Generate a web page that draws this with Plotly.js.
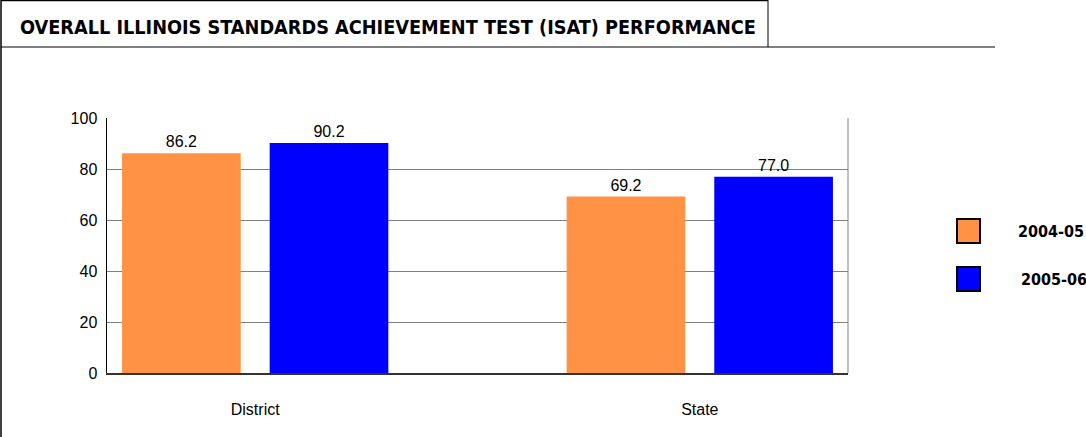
<!DOCTYPE html>
<html><head><meta charset="utf-8">
<script src="https://cdn.plot.ly/plotly-3.0.1.min.js"></script>
<style>html,body{margin:0;padding:0;background:#fff}#c{width:1086px;height:437px}</style>
</head><body><div id="c"></div>
<script>
const categories = ["District", "State"];
const seriesNames = ["2004-05", "2005-06"];
const values0405 = [86.2, 69.2];
const values0506 = [90.2, 77.0];
const colors = ["#FF9244", "#0000FF"];
const yTicks = [0, 20, 40, 60, 80, 100];

const font = "Arial, 'Liberation Sans', sans-serif";
const narrow = "'DejaVu Sans Condensed', 'Liberation Sans Narrow', 'Arial Narrow', sans-serif";
const series = [values0405, values0506];
const traces = series.map((v, i) => ({
  type: "bar", x: categories, y: v, name: seriesNames[i],
  marker: {color: colors[i], line: {width: 0}},
  texttemplate: "%{y:.1f}", textposition: "outside", cliponaxis: false,
  textfont: {family: font, size: 16, color: "#000"},
  showlegend: false, hoverinfo: "none"
}));

// pixel -> paper helpers (plot area 107..848 x 118..373)
const L = 107, R = 848, T = 118, B = 373;
const px = x => (x - L) / (R - L);
const py = y => 1 - (y - T) / (B - T);

const shapes = [
  {type: "line", xref: "paper", yref: "paper", x0: px(1), x1: px(1), y0: py(0), y1: py(440), line: {color: "#000", width: 1.5}},
  {type: "line", xref: "paper", yref: "paper", x0: px(1), x1: px(768), y0: py(0.5), y1: py(0.5), line: {color: "#000", width: 1.5}},
  {type: "line", xref: "paper", yref: "paper", x0: px(768), x1: px(768), y0: py(0), y1: py(47), line: {color: "#000", width: 1}},
  {type: "line", xref: "paper", yref: "paper", x0: px(1), x1: px(995), y0: py(47), y1: py(47), line: {color: "#000", width: 1.2}},
  {type: "line", xref: "paper", yref: "paper", x0: 1, x1: 1, y0: 0, y1: 1, line: {color: "#808080", width: 1}, layer: "above"}
];
const annotations = [];
const legY = [[219, 243], [267, 291]];
const legTextX = [1051, 1054];
seriesNames.forEach((n, i) => {
  shapes.push({type: "rect", xref: "paper", yref: "paper", x0: px(957), x1: px(980), y0: py(legY[i][0]), y1: py(legY[i][1]),
    fillcolor: colors[i], line: {color: "#000", width: 2}});
  annotations.push({xref: "paper", yref: "paper", x: px(legTextX[i]), y: py((legY[i][0] + legY[i][1]) / 2),
    text: "<b>" + n + "</b>", showarrow: false, xanchor: "center", yanchor: "middle",
    font: {family: narrow, size: 16, color: "#000"}});
});

const layout = {
  width: 1086, height: 437,
  margin: {l: L, r: 1086 - R, t: T, b: 437 - B},
  paper_bgcolor: "#fff", plot_bgcolor: "#fff",
  title: {text: "<b>OVERALL ILLINOIS STANDARDS ACHIEVEMENT TEST (ISAT) PERFORMANCE</b>",
    x: 20 / 1086, xanchor: "left", xref: "container", y: 1 - 27 / 437, yanchor: "middle", yref: "container",
    font: {family: narrow, size: 19.7, color: "#000"}},
  barmode: "group", bargap: 0.336, bargroupgap: 0.196,
  xaxis: {range: [-1 / 3, 4 / 3], showgrid: false, zeroline: false, showline: true, linecolor: "#333", linewidth: 1.5,
    ticks: "", ticklabelstandoff: 21, tickfont: {family: font, size: 16, color: "#000"}, fixedrange: true},
  yaxis: {range: [0, 100], tickvals: yTicks, ticktext: yTicks.map(String), showgrid: true, gridcolor: "#808080", gridwidth: 1,
    zeroline: false, showline: true, linecolor: "#000", linewidth: 1.5, ticks: "",
    ticklabelstandoff: 5, tickfont: {family: font, size: 16, color: "#000"}, fixedrange: true},
  shapes: shapes, annotations: annotations, showlegend: false
};
Plotly.newPlot("c", traces, layout, {displayModeBar: false, staticPlot: true});
</script></body></html>
